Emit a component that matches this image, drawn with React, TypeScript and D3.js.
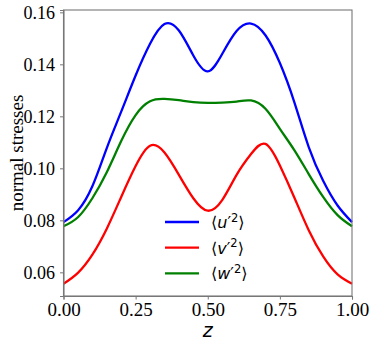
import React, { useEffect, useRef } from "react";
import * as d3 from "d3";

// wall-normal coordinate
const zValues = [0, 0.05, 0.1, 0.15, 0.2, 0.25, 0.3, 0.35, 0.4, 0.45, 0.5, 0.55, 0.6, 0.65, 0.7, 0.75, 0.8, 0.85, 0.9, 0.95, 1.0];

const uu = [0.0793, 0.0838, 0.0931, 0.1078, 0.1218, 0.1357, 0.1479, 0.1555, 0.1530, 0.1434, 0.1373, 0.1440, 0.1528, 0.1557, 0.1512, 0.1405, 0.1255, 0.1082, 0.0952, 0.0857, 0.0793];
const vv = [0.0556, 0.0598, 0.0668, 0.0768, 0.0890, 0.1009, 0.1087, 0.1061, 0.0975, 0.0885, 0.0837, 0.0878, 0.0975, 0.1055, 0.1094, 0.1011, 0.0888, 0.0762, 0.0661, 0.0592, 0.0556];
const ww = [0.0777, 0.0812, 0.0885, 0.0985, 0.1105, 0.1205, 0.1258, 0.1267, 0.1262, 0.1255, 0.1252, 0.1253, 0.1257, 0.1261, 0.1229, 0.1152, 0.1070, 0.0978, 0.0890, 0.0820, 0.0777];

const seriesNames = ["u", "v", "w"];
const seriesColors = ["#0000ff", "#ff0000", "#008000"];

const xTicks = [0, 0.25, 0.5, 0.75, 1.0];
const yTicks = [0.06, 0.08, 0.1, 0.12, 0.14, 0.16];

const StressChart = () => {
  const svgRef = useRef<SVGSVGElement>(null);

  useEffect(() => {
    const width = 374;
    const height = 344;
    const margin = { top: 10, right: 22, bottom: 48, left: 63.5 };

    const x = d3.scaleLinear()
      .domain([0, 1])
      .range([margin.left, width - margin.right]);

    const y = d3.scaleLinear()
      .domain([0.0509, 0.1609])
      .range([height - margin.bottom, margin.top]);

    const svg = d3.select(svgRef.current)
      .attr("width", width)
      .attr("height", height);

    svg.selectAll("*").remove();

    const series = [uu, vv, ww];

    const line = d3.line<number>()
      .x((d, i) => x(zValues[i]))
      .y(d => y(d))
      .curve(d3.curveNatural);

    const plot = svg.append("g");
    series.forEach((vals, k) => {
      plot.append("path")
        .datum(vals)
        .attr("fill", "none")
        .attr("stroke", seriesColors[k])
        .attr("stroke-width", 2.3)
        .attr("d", line);
    });

    // frame
    svg.append("rect")
      .attr("x", x(0))
      .attr("y", y(0.1609))
      .attr("width", x(1) - x(0))
      .attr("height", y(0.0509) - y(0.1609))
      .attr("fill", "none")
      .attr("stroke", "#777")
      .attr("stroke-width", 1.1);

    const xAxis = svg.append("g")
      .attr("transform", `translate(0,${height - margin.bottom})`)
      .call(d3.axisBottom(x).tickValues(xTicks).tickFormat(d3.format(".2f")).tickSize(3.5).tickPadding(3));

    const yAxis = svg.append("g")
      .attr("transform", `translate(${margin.left},0)`)
      .call(d3.axisLeft(y).tickValues(yTicks).tickFormat(d3.format(".2f")).tickSize(3.5).tickPadding(5));

    [xAxis, yAxis].forEach(ax => {
      ax.select(".domain").attr("stroke", "#777").attr("stroke-width", 1.1);
      ax.selectAll(".tick line").attr("stroke", "#777");
      ax.selectAll("text")
        .attr("fill", "#000")
        .style("font-family", "'Liberation Serif', serif");
    });
    xAxis.selectAll("text").style("font-size", "19px");
    yAxis.selectAll("text").style("font-size", "18px").attr("dy", "0.33em");

    svg.append("text")
      .attr("x", x(0.5))
      .attr("y", 337)
      .attr("text-anchor", "middle")
      .style("font-family", "'DejaVu Sans', sans-serif")
      .style("font-style", "italic")
      .style("font-size", "19px")
      .text("z");

    svg.append("text")
      .attr("transform", `translate(23,${(y(0.0509) + y(0.1609)) / 2}) rotate(-90)`)
      .attr("text-anchor", "middle")
      .style("font-family", "'Liberation Serif', serif")
      .style("font-size", "19px")
      .text("normal stresses");

    // legend
    const legend = svg.append("g").attr("transform", "translate(165,222)");
    seriesNames.forEach((name, k) => {
      const row = legend.append("g").attr("transform", `translate(0,${k * 25.7})`);
      row.append("line")
        .attr("x1", 0).attr("x2", 34)
        .attr("stroke", seriesColors[k])
        .attr("stroke-width", 2.3);
      const t = row.append("text")
        .attr("x", 46)
        .attr("y", 6)
        .style("font-family", "'DejaVu Sans', sans-serif")
        .style("font-size", "16px");
      t.append("tspan").text("\u27E8");
      t.append("tspan").style("font-style", "italic").text(name);
      t.append("tspan").text("\u2032");
      t.append("tspan").attr("dy", -6.5).style("font-size", "11.5px").text("2");
      t.append("tspan").attr("dy", 6.5).text("\u27E9");
    });
  }, []);

  return <svg ref={svgRef} style={{ position: "absolute", left: 0, top: 0 }}></svg>;
};

export default function App() {
  return <StressChart />;
}
